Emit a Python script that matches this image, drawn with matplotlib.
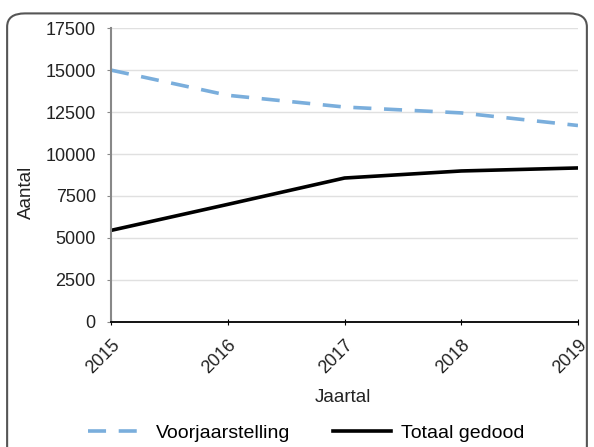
import matplotlib.pyplot as plt
from matplotlib.patches import FancyBboxPatch

# Data
years = [2015, 2016, 2017, 2018, 2019]
voorjaarstelling = [15000, 13500, 12800, 12450, 11700]
totaal_gedood = [5450, 7000, 8570, 8990, 9170]
y_ticks = list(range(0, 17501, 2500))

plt.rcParams['font.family'] = ['Liberation Sans', 'DejaVu Sans']

fig = plt.figure(figsize=(5.94, 4.47), dpi=100)
ax = fig.add_axes([0.187, 0.28, 0.786, 0.657])

ax.plot(years, voorjaarstelling, color='#7aaedc', linewidth=2.6,
        linestyle=(0, (5, 3.5)), label='Voorjaarstelling')
ax.plot(years, totaal_gedood, color='black', linewidth=2.6,
        label='Totaal gedood')

# Axes formatting
ax.set_xlim(2015, 2019)
ax.set_ylim(0, 17500)
ax.set_yticks(y_ticks)
ax.set_xticks(years)
ax.set_xticklabels([str(y) for y in years], rotation=45, ha='right',
                   rotation_mode='anchor', fontsize=13, color='#222222')
ax.tick_params(axis='y', labelsize=13, labelcolor='#222222', length=3,
               color='#888888', pad=8)
ax.tick_params(axis='x', direction='inout', length=5, color='black', pad=8)
ax.grid(axis='y', color='#e0e0e0', linewidth=1)
ax.set_axisbelow(True)
for side in ['top', 'right']:
    ax.spines[side].set_visible(False)
ax.spines['left'].set_color('#888888')
ax.spines['left'].set_linewidth(1.5)
ax.spines['bottom'].set_color('black')
ax.spines['bottom'].set_linewidth(1.3)

ax.set_xlabel('Jaartal', fontsize=13.5, color='#222222')
ax.xaxis.set_label_coords(0.497, -0.23)
ax.set_ylabel('Aantal', fontsize=13.5, color='#222222')
ax.yaxis.set_label_coords(-0.163, 0.44)

fig.legend(loc='center', bbox_to_anchor=(0.515, 0.031), ncol=2,
           frameon=False, fontsize=14, handlelength=3.0,
           handletextpad=0.5, columnspacing=2.2)

# Rounded border around the chart
border = FancyBboxPatch((0.012, -0.03), 0.976, 1.0,
                        boxstyle='round,pad=0,rounding_size=0.03',
                        transform=fig.transFigure, fill=False,
                        edgecolor='#555555', linewidth=1.5)
fig.patches.append(border)

fig.savefig('out.png', dpi=100)
